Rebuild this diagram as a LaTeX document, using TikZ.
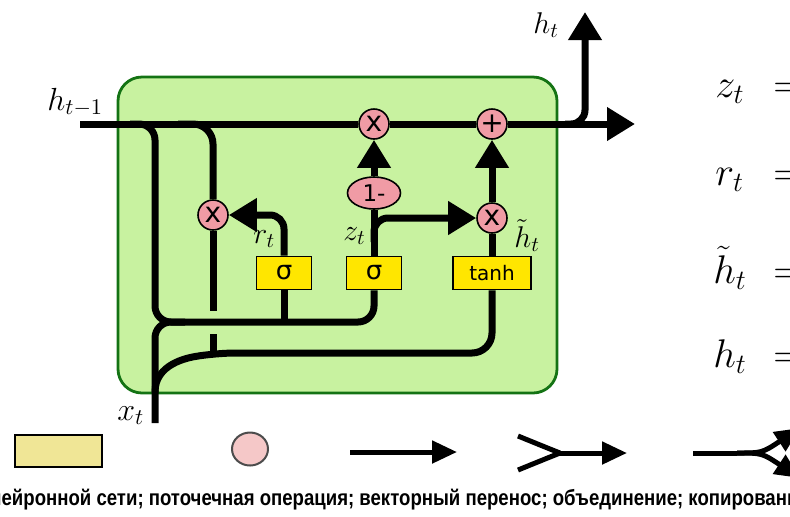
\RequirePackage{fix-cm}
\documentclass[tikz,border=0pt]{standalone}
\usepackage{fontspec}
\newfontfamily\gatefont{DejaVu Sans}
\newfontfamily\legendfont[FakeStretch=0.845]{Liberation Sans}
\usetikzlibrary{arrows.meta, shapes.geometric}

\begin{document}
\begin{tikzpicture}[x=0.5pt, y=-0.5pt,
  wire/.style={line width=3.5pt, draw=black},
  flow/.style={wire, -{Triangle[length=14pt, width=16pt]}},
  op/.style={circle, draw=black, line width=0.8pt, fill=colorOp, minimum size=15pt, inner sep=0pt, font=\gatefont\fontsize{14}{14}\selectfont},
  gate/.style={draw=black, line width=0.8pt, fill=colorGate, minimum height=16.5pt, inner sep=0pt, font=\gatefont},
  lbl/.style={font=\fontsize{15}{18}\selectfont, anchor=base west, inner sep=0pt},
  eq/.style={font=\fontsize{20}{24}\selectfont, anchor=base west, inner sep=0pt},
  legwire/.style={line width=2.5pt, draw=black},
  legflow/.style={legwire, -{Triangle[length=12.5pt, width=11pt]}}
    ]
    % Цвета
    \definecolor{colorCell}{RGB}{200, 242, 160}
    \definecolor{colorCellBorder}{RGB}{20, 115, 20}
    \definecolor{colorGate}{RGB}{255, 230, 0}
    \definecolor{colorOp}{RGB}{240, 155, 165}
    \definecolor{colorLegBox}{RGB}{240, 230, 150}
    \definecolor{colorLegOp}{RGB}{245, 200, 200}

    \clip (0,0) rectangle (790,516);

    % Ячейка
    \draw[fill=colorCell, draw=colorCellBorder, line width=1.4pt, rounded corners=12pt] (118,77) rectangle (557,393);

    % Операции и слои
    \node[op] (mz) at (374,124) {x};
    \node[op] (plus) at (492,124) {+};
    \node[op, ellipse, minimum width=26.5pt, minimum height=16pt, font=\gatefont\fontsize{11.5}{12}\selectfont] (om) at (374,193) {1-};
    \node[op] (mh) at (492,218) {x};
    \node[op] (mr) at (213,215) {x};
    \node[gate, minimum width=27.5pt, font=\gatefont\fontsize{13}{13}\selectfont] (sr) at (284,273) {σ};
    \node[gate, minimum width=27.5pt, font=\gatefont\fontsize{13}{13}\selectfont] (sz) at (374,273) {σ};
    \node[gate, minimum width=39pt, font=\gatefont\fontsize{10}{10}\selectfont] (th) at (492,273) {tanh};

    \coordinate (hin) at (80,124);
    \coordinate (hout) at (635,124);
    \coordinate (hup) at (585,12);
    \coordinate (xin) at (155,423);
    \coordinate (jr) at (284,322);
    \coordinate (jz) at (374,242);
    \coordinate (gap1) at (213,311);
    \coordinate (gap2) at (213,334);
    \coordinate (jl) at (213,353);

    % Связи
    \draw[wire] (hin) -- (mz) -- (plus);
    \draw[flow] (plus) -- (hout);
    \draw[flow, rounded corners=7pt] (565,124) -| (hup);
    \draw[wire, rounded corners=8pt] (130,124) -| (155,322) -| (sz);
    \draw[wire] (sr) -- (jr);
    \draw[wire, rounded corners=8pt] (xin) |- (185,322);
    \draw[wire, rounded corners=10pt] (155,392) to[out=90, in=190] (215,353) -| (th);
    \draw[wire, rounded corners=10pt] (178,124) -| (mr);
    \draw[wire] (mr) -- (gap1);
    \draw[wire] (gap2) -- (jl);
    \draw[flow, rounded corners=7pt] (sr) |- (mr);
    \draw[wire] (sz) -- (om);
    \draw[flow] (om) -- (mz);
    \draw[flow, rounded corners=7pt] (jz) |- (mh);
    \draw[wire] (th) -- (mh);
    \draw[flow] (mh) -- (plus);

    % Подписи
    \node[lbl, font=\fontsize{16}{18}\selectfont] (lhin) at (47,110) {$h_{t-1}$};
    \node[lbl] (lhout) at (533,33) {$h_t$};
    \node[lbl, font=\fontsize{16}{18}\selectfont] (lx) at (117,420) {$x_t$};
    \node[lbl] (lr) at (253,243) {$r_t$};
    \node[lbl] (lz) at (343,240) {$z_t$};
    \node[lbl] (lh) at (514,247) {$\tilde{h}_t$};

    % Формулы
    \node[eq] (ez) at (715,97) {\makebox[29pt][l]{$z_t$}$=$};
    \node[eq] (er) at (715,185) {\makebox[29pt][l]{$r_t$}$=$};
    \node[eq] (eh) at (713,283) {\makebox[30pt][l]{$\tilde{h}_t$}$=$};
    \node[eq] (ehh) at (713,367) {\makebox[30pt][l]{$h_t$}$=$};

    % Легенда
    \node[draw=black, line width=1pt, fill=colorLegBox, minimum width=43.5pt, minimum height=16pt] (legbox) at (58,451) {};
    \node[ellipse, draw=black!70, line width=1pt, fill=colorLegOp, minimum width=18pt, minimum height=16.5pt, inner sep=0pt] (legop) at (250,449) {};
    \coordinate (a1) at (350,452);
    \coordinate (a2) at (457,452);
    \draw[legflow] (a1) -- (a2);
    \coordinate (m1) at (518,436);
    \coordinate (m2) at (518,470);
    \coordinate (m3) at (560,453);
    \coordinate (m4) at (627,453);
    \draw[legwire] (m1) .. controls (545,447) .. (m3);
    \draw[legwire] (m2) .. controls (545,459) .. (m3);
    \draw[legflow] (m3) -- (m4);
    \coordinate (c1) at (693,453);
    \coordinate (c2) at (737,453);
    \coordinate (c3) at (800,428);
    \coordinate (c4) at (800,478);
    \draw[legwire] (c1) -- (c2);
    \draw[legflow] (c2) .. controls (762,453) .. (c3);
    \draw[legflow] (c2) .. controls (762,453) .. (c4);
    \node[anchor=base west, inner sep=0pt, font=\legendfont\bfseries\fontsize{11}{13}\selectfont] (legtext) at (-10,505) {нейронной сети; поточечная операция; векторный перенос; объединение; копирование};
    \end{tikzpicture}
\end{document}
